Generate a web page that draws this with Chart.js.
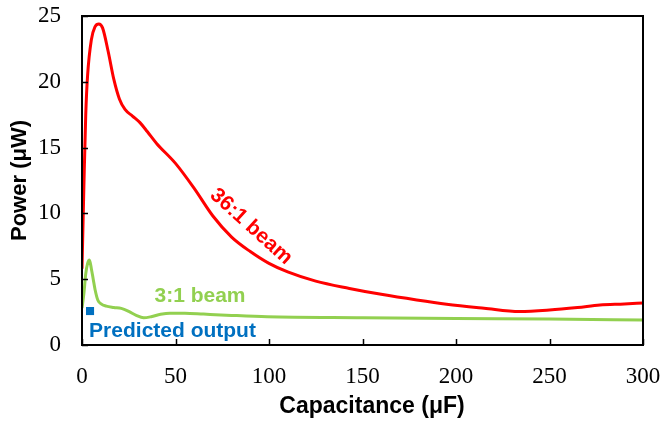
<!DOCTYPE html>
<html>
<head>
<meta charset="utf-8">
<script src="https://cdn.jsdelivr.net/npm/chart.js@4/dist/chart.umd.min.js"></script>
<style>
html,body{margin:0;padding:0;background:#fff;}
#wrap{width:665px;height:426px;}
</style>
</head>
<body>
<div id="wrap"><canvas id="c" width="665" height="426"></canvas></div>
<script>
// ---- data ----
const beam36X = [0, 1, 2, 3, 5, 7, 9, 11, 14, 17, 20, 23, 27, 31, 35, 40, 50, 60, 70, 80, 90, 100, 110, 125, 143, 160, 179, 195, 215, 234, 250, 265, 277, 290, 300];
const beam36Y = [5.8, 12, 17.5, 20.5, 23.2, 24.2, 24.4, 24.1, 22.3, 20.2, 18.7, 17.9, 17.4, 16.9, 16.2, 15.3, 13.8, 11.9, 9.8, 8.2, 7.1, 6.2, 5.55, 4.85, 4.3, 3.85, 3.42, 3.1, 2.8, 2.55, 2.66, 2.85, 3.04, 3.12, 3.2];
const beam3X = [0, 1, 2, 3, 4, 5, 6, 7, 8.5, 10, 13, 17, 21, 25, 29, 33, 37, 42, 47, 55, 65, 80, 99, 150, 200, 250, 300];
const beam3Y = [2.8, 3.9, 5.4, 6.2, 6.45, 5.8, 5.0, 4.2, 3.4, 3.15, 2.95, 2.85, 2.78, 2.55, 2.25, 2.07, 2.15, 2.33, 2.42, 2.42, 2.35, 2.25, 2.15, 2.08, 2.02, 1.97, 1.9];
const predictedX = [4.3];
const predictedY = [2.58];
const xTickValues = [0, 50, 100, 150, 200, 250, 300];
const yTickValues = [0, 5, 10, 15, 20, 25];
const labels = {
  red: "36:1 beam",
  green: "3:1 beam",
  blue: "Predicted output",
  xTitle: "Capacitance (\u03bcF)",
  yTitle: "Power (\u03bcW)"
};

const toXY = (xs, ys) => xs.map((x, i) => ({x: x, y: ys[i]}));

const decor = {
  id: 'decor',
  beforeDraw(chart) {
    const ctx = chart.ctx;
    ctx.save();
    ctx.fillStyle = '#fff';
    ctx.fillRect(0, 0, chart.width, chart.height);
    ctx.restore();
  },
  afterDraw(chart) {
    const ctx = chart.ctx;
    const a = chart.chartArea;
    const xs = chart.scales.x, ys = chart.scales.y;
    ctx.save();
    // frame
    ctx.strokeStyle = '#000';
    ctx.lineWidth = 2;
    ctx.strokeRect(a.left, a.top, a.right - a.left, a.bottom - a.top);
    // inward tick marks
    ctx.lineWidth = 1.5;
    ctx.beginPath();
    xTickValues.forEach(v => {
      const px = Math.round(xs.getPixelForValue(v)) + 0.5;
      ctx.moveTo(px, a.bottom);
      ctx.lineTo(px, a.bottom - 6);
    });
    yTickValues.forEach(v => {
      const py = Math.round(ys.getPixelForValue(v)) + 0.5;
      ctx.moveTo(a.left, py);
      ctx.lineTo(a.left + 6, py);
    });
    ctx.stroke();

    // series labels
    ctx.textBaseline = 'middle';
    const lblFont = 'bold 21px "Liberation Sans", Arial, sans-serif';
    // 36:1 beam (rotated)
    ctx.save();
    ctx.translate(xs.getPixelForValue(90.4), ys.getPixelForValue(9.0));
    ctx.rotate(42 * Math.PI / 180);
    ctx.fillStyle = '#ff0000';
    ctx.font = lblFont;
    ctx.textAlign = 'center';
    ctx.fillText(labels.red, 0, 0);
    ctx.restore();
    // 3:1 beam
    ctx.fillStyle = '#92d050';
    ctx.font = lblFont;
    ctx.textAlign = 'center';
    ctx.fillText(labels.green, xs.getPixelForValue(63.1), ys.getPixelForValue(3.72));
    // Predicted output
    ctx.fillStyle = '#0070c0';
    ctx.textAlign = 'left';
    ctx.fillText(labels.blue, xs.getPixelForValue(3.8), ys.getPixelForValue(1.06));
    // x axis title
    ctx.fillStyle = '#000';
    ctx.font = 'bold 23px "Liberation Sans", Arial, sans-serif';
    ctx.textAlign = 'center';
    ctx.fillText(labels.xTitle, 372, 407);
    ctx.restore();
  }
};

new Chart(document.getElementById('c'), {
  type: 'scatter',
  data: {
    datasets: [
      {
        label: labels.red,
        data: toXY(beam36X, beam36Y),
        showLine: true,
        borderColor: '#ff0000',
        borderWidth: 3,
        pointRadius: 0,
        cubicInterpolationMode: 'monotone',
        fill: false
      },
      {
        label: labels.green,
        data: toXY(beam3X, beam3Y),
        showLine: true,
        borderColor: '#92d050',
        borderWidth: 3,
        pointRadius: 0,
        cubicInterpolationMode: 'monotone',
        fill: false
      },
      {
        label: labels.blue,
        data: toXY(predictedX, predictedY),
        showLine: false,
        pointStyle: 'rect',
        pointRadius: 5.7,
        backgroundColor: '#0070c0',
        borderColor: '#0070c0',
        borderWidth: 0
      }
    ]
  },
  options: {
    responsive: false,
    animation: false,
    devicePixelRatio: 1,
    layout: {padding: {left: 0, right: 22, top: 16, bottom: 0}},
    plugins: {legend: {display: false}, tooltip: {enabled: false}},
    scales: {
      x: {
        type: 'linear',
        min: 0, max: 300,
        afterFit(s) { s.height = 81; s.paddingLeft = 0; s.paddingRight = 0; },
        afterBuildTicks(s) { s.ticks = xTickValues.map(v => ({value: v})); },
        grid: {display: false, drawTicks: false},
        border: {display: false},
        ticks: {
          padding: 18,
          color: '#000',
          maxRotation: 0,
          font: {family: '"Liberation Serif", "Times New Roman", serif', size: 23}
        }
      },
      y: {
        type: 'linear',
        min: 0, max: 25,
        afterFit(s) { s.width = 82; s.paddingTop = 0; s.paddingBottom = 0; },
        afterBuildTicks(s) { s.ticks = yTickValues.map(v => ({value: v})); },
        grid: {display: false, drawTicks: false},
        border: {display: false},
        ticks: {
          padding: 21,
          color: '#000',
          font: {family: '"Liberation Serif", "Times New Roman", serif', size: 23}
        },
        title: {
          display: true,
          text: labels.yTitle,
          color: '#000',
          padding: {top: 7, bottom: 0},
          font: {family: '"Liberation Sans", Arial, sans-serif', size: 22, weight: 'bold'}
        }
      }
    }
  },
  plugins: [decor]
});
</script>
</body>
</html>
